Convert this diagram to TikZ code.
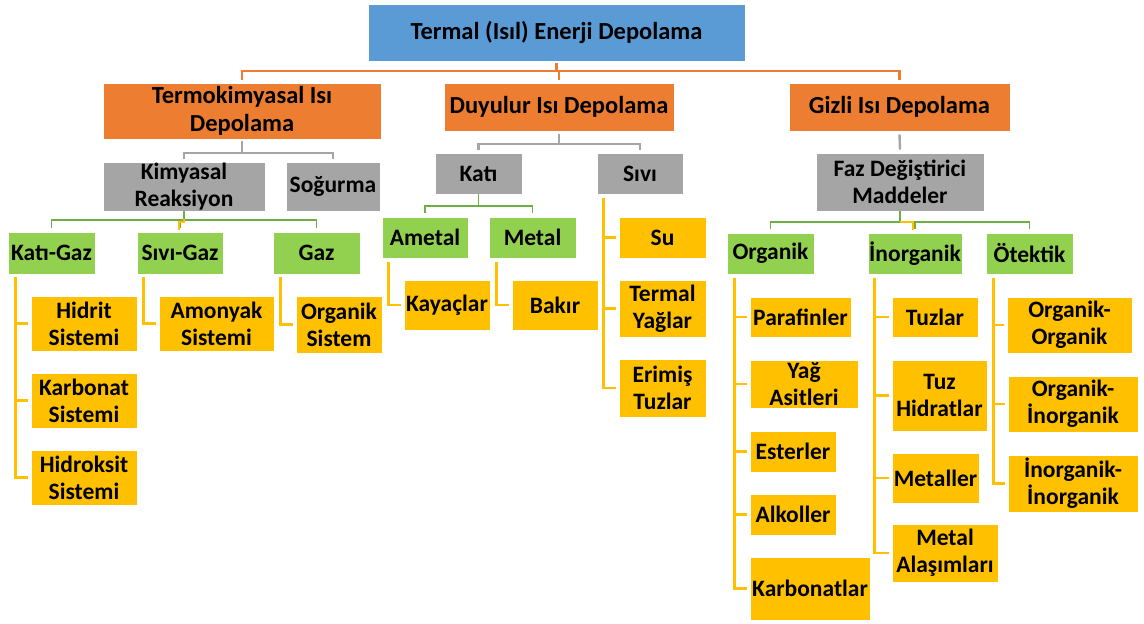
\documentclass[tikz,border=0pt]{standalone}
\usepackage{fontspec}
\setmainfont{Carlito}
\usetikzlibrary{calc}
\definecolor{cblue}{HTML}{5B9BD5}
\definecolor{corange}{HTML}{ED7D31}
\definecolor{cgray}{HTML}{A5A5A5}
\definecolor{cgreen}{HTML}{92D050}
\definecolor{cgreenline}{HTML}{70AD47}
\definecolor{cgold}{HTML}{FFC000}
\tikzset{
  box/.style={draw=white, line width=0.8pt, inner sep=0pt, align=center,
    font=\fontsize{23.5}{27}\selectfont\bfseries},
  bigbox/.style={box, font=\fontsize{24.5}{28}\selectfont\bfseries},
  bluebox/.style={bigbox, fill=cblue},
  orangebox/.style={bigbox, fill=corange},
  graybox/.style={box, fill=cgray},
  greenbox/.style={box, fill=cgreen},
  goldbox/.style={box, fill=cgold},
  olin/.style={draw=corange, line width=2.2pt},
  glin/.style={draw=cgray, line width=2.4pt},
  grlin/.style={draw=cgreenline, line width=1.4pt},
  ylin/.style={draw=cgold, line width=2.8pt},
}
% box from corner (x1,y1) to corner (x2,y2), in pixel units
\newcommand\mkbox[7]{%
  \node[#1, minimum width={(#5-#3)*1pt}, minimum height={(#6-#4)*1pt}]
    (#2) at ({(#3+#5)/2},{(#4+#6)/2}) {#7};}
\begin{document}
\begin{tikzpicture}[x=1pt, y=-1pt]
\useasboundingbox (0,0) rectangle (1144,624);

% level 0 and 1
\mkbox{bluebox}{root}{368}{4}{745}{61}{Termal (Isıl) Enerji Depolama}
\mkbox{orangebox}{termo}{103}{83}{381}{139}{Termokimyasal Isı\\Depolama}
\mkbox{orangebox}{duy}{444}{83}{674}{131}{Duyulur Isı Depolama}
\mkbox{orangebox}{gizli}{789}{83}{1010}{131}{Gizli Isı Depolama}

% level 2
\mkbox{graybox}{kimy}{103}{162}{265}{211}{Kimyasal\\Reaksiyon}
\mkbox{graybox}{sog}{286}{162}{380}{211}{Soğurma}
\mkbox{graybox}{kati}{435}{153}{522}{194}{Katı}
\mkbox{graybox}{sivi}{597}{153}{683}{194}{Sıvı}
\mkbox{graybox}{faz}{816}{153}{984}{211}{Faz Değiştirici\\Maddeler}

% level 3
\mkbox{greenbox}{kg}{8}{232}{95}{274}{Katı-Gaz}
\mkbox{greenbox}{sg}{137}{232}{223}{274}{Sıvı-Gaz}
\mkbox{greenbox}{gaz}{273}{232}{360}{274}{Gaz}
\mkbox{greenbox}{amet}{382}{217}{468}{258}{Ametal}
\mkbox{greenbox}{metal}{489}{217}{576}{258}{Metal}
\mkbox{greenbox}{org}{727}{233}{814}{274}{Organik}
\mkbox{greenbox}{inorg}{868}{233}{962}{274}{İnorganik}
\mkbox{greenbox}{otek}{986}{233}{1073}{274}{Ötektik}

% leaves
\mkbox{goldbox}{hidrit}{31}{296}{137}{351}{Hidrit\\Sistemi}
\mkbox{goldbox}{karb}{31}{373}{137}{428}{Karbonat\\Sistemi}
\mkbox{goldbox}{hidrok}{31}{450}{137}{505}{Hidroksit\\Sistemi}
\mkbox{goldbox}{amon}{159}{296}{274}{351}{Amonyak\\Sistemi}
\mkbox{goldbox}{orgs}{296}{296}{382}{353}{Organik\\Sistem}
\mkbox{goldbox}{kaya}{404}{280}{490}{330}{Kayaçlar}
\mkbox{goldbox}{bakir}{512}{280}{598}{330}{Bakır}
\mkbox{goldbox}{su}{619}{217}{706}{258}{Su}
\mkbox{goldbox}{tyag}{619}{280}{706}{337}{Termal\\Yağlar}
\mkbox{goldbox}{erim}{619}{359}{706}{417}{Erimiş\\Tuzlar}
\mkbox{goldbox}{paraf}{750}{297}{851}{337}{Parafinler}
\mkbox{goldbox}{yag}{750}{360}{858}{408}{Yağ\\Asitleri}
\mkbox{goldbox}{ester}{750}{431}{836}{472}{Esterler}
\mkbox{goldbox}{alkol}{750}{494}{836}{535}{Alkoller}
\mkbox{goldbox}{karbon}{750}{557}{870}{620}{Karbonatlar}
\mkbox{goldbox}{tuz}{892}{297}{978}{337}{Tuzlar}
\mkbox{goldbox}{tuzh}{892}{360}{987}{431}{Tuz\\Hidratlar}
\mkbox{goldbox}{metl}{892}{453}{979}{503}{Metaller}
\mkbox{goldbox}{metala}{892}{524}{998}{582}{Metal\\Alaşımları}
\mkbox{goldbox}{oo}{1007}{297}{1132}{353}{Organik-\\Organik}
\mkbox{goldbox}{oi}{1008}{376}{1138}{432}{Organik-\\İnorganik}
\mkbox{goldbox}{ii}{1008}{455}{1138}{512}{İnorganik-\\İnorganik}

% orange bus: root to level 1
\coordinate (obus) at (0,71);
\draw[olin] ([yshift=-2pt]root.south) -- (root.south |- obus);
\draw[olin] ([yshift=3pt]termo.north) -- (termo.north |- obus)
  -- (gizli.north |- obus) -- ([yshift=3pt]gizli.north);
\draw[olin] ([yshift=3pt]duy.north) -- (duy.north |- obus);

% gray buses: level 1 to level 2
\coordinate (gbus1) at (0,153);
\draw[glin] ([yshift=-2pt]termo.south) -- (termo.south |- gbus1);
\draw[glin] ([yshift=3pt]kimy.north) -- (kimy.north |- gbus1)
  -- (sog.north |- gbus1) -- ([yshift=3pt]sog.north);
\coordinate (gbus2) at (0,144);
\draw[glin] ([yshift=-3pt]duy.south) -- (duy.south |- gbus2);
\draw[glin] ([yshift=3pt]kati.north) -- (kati.north |- gbus2)
  -- (sivi.north |- gbus2) -- ([yshift=3pt]sivi.north);
\draw[glin] ([yshift=-3pt]gizli.south) -- ([yshift=3pt]faz.north);

% green buses: level 2 to level 3
\coordinate (rbus1) at (0,220);
\draw[grlin] (kimy.south) -- (kimy.south |- rbus1);
\draw[grlin] ([yshift=4pt]kg.north) -- (kg.north |- rbus1)
  -- (gaz.north |- rbus1) -- ([yshift=4pt]gaz.north);
\draw[grlin] (sg.north |- rbus1) -- ([yshift=4pt]sg.north);
\coordinate (rbus2) at (0,206);
\draw[grlin] (kati.south) -- (kati.south |- rbus2);
\draw[grlin] ([yshift=4pt]amet.north) -- (amet.north |- rbus2)
  -- (metal.north |- rbus2) -- ([yshift=4pt]metal.north);
\coordinate (rbus3) at (0,222);
\draw[grlin] (faz.south) -- (faz.south |- rbus3);
\draw[grlin] ([yshift=4pt]org.north) -- (org.north |- rbus3)
  -- (otek.north |- rbus3) -- ([yshift=4pt]otek.north);
\draw[grlin] (inorg.north |- rbus3) -- ([yshift=4pt]inorg.north);

% small gold joints at the green buses
\draw[ylin, line width=2pt] (184,219) -- (184,222) -- (179,222) -- (179,230);
\draw[ylin, line width=2pt] (900,222) -- (913,222) -- (913,230);

% gold spines: level 3 to leaves
\coordinate (skg) at ($(kg.south west)+(8,3)$);
\foreach \c in {hidrit,karb,hidrok}
  \draw[ylin] (skg) |- ([xshift=-3pt]\c.west);
\coordinate (ssg) at ($(sg.south west)+(7,3)$);
\draw[ylin] (ssg) |- ([xshift=-3pt]amon.west);
\coordinate (sgaz) at ($(gaz.south west)+(8,3)$);
\draw[ylin] (sgaz) |- ([xshift=-3pt]orgs.west);
\coordinate (samet) at ($(amet.south west)+(7,4)$);
\draw[ylin] (samet) |- ([xshift=-3pt]kaya.west);
\coordinate (smetal) at ($(metal.south west)+(8,4)$);
\draw[ylin] (smetal) |- ([xshift=-3pt]bakir.west);
\coordinate (ssivi) at ($(sivi.south west)+(7,4)$);
\foreach \c in {su,tyag,erim}
  \draw[ylin] (ssivi) |- ([xshift=-3pt]\c.west);
\coordinate (sorg) at ($(org.south west)+(8,4)$);
\foreach \c in {paraf,yag,ester,alkol,karbon}
  \draw[ylin] (sorg) |- ([xshift=-3pt]\c.west);
\coordinate (sinorg) at ($(inorg.south west)+(7,4)$);
\foreach \c in {tuz,tuzh,metl,metala}
  \draw[ylin] (sinorg) |- ([xshift=-3pt]\c.west);
\coordinate (sotek) at ($(otek.south west)+(8,4)$);
\foreach \c in {oo,oi,ii}
  \draw[ylin] (sotek) |- ([xshift=-3pt]\c.west);
\end{tikzpicture}
\end{document}
